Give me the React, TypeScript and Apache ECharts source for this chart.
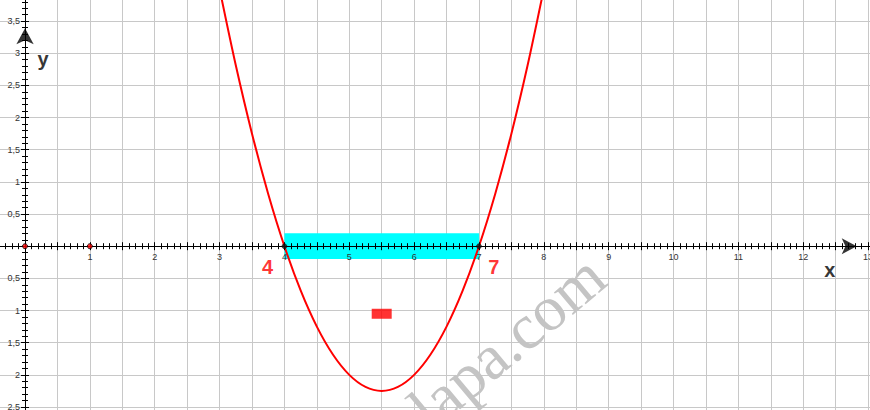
import React, { useEffect, useRef } from 'react';
import * as echarts from 'echarts';

// Parabola samples (roots at 4 and 7, vertex at 5.5, -2.25)
const curveX = [3, 3.25, 3.5, 3.75, 4, 4.25, 4.5, 4.75, 5, 5.25, 5.5, 5.75, 6, 6.25, 6.5, 6.75, 7, 7.25, 7.5, 7.75, 8];
const curveY = [4, 2.8125, 1.75, 0.8125, 0, -0.6875, -1.25, -1.6875, -2, -2.1875, -2.25, -2.1875, -2, -1.6875, -1.25, -0.6875, 0, 0.8125, 1.75, 2.8125, 4];

// Cyan band on the x axis between the roots
const bandX = [4, 7];
const bandY = [-0.2, 0.2];

const redDots = [[0, 0], [1, 0]];
const blackDots = [[4, 0], [7, 0]];
const redMark = [[5.5, -1.05]];

// arrow tips
const xArrow = [[12.825, 0]];
const yArrow = [[0, 3.39]];

const annoText = ['4', '7', 'x', 'y'];
const annoX = [3.74, 7.23, 12.41, 0.28];
const annoY = [-0.32, -0.32, -0.365, 2.91];
const annoColor = ['#ff0000', '#ff0000', '#000000', '#000000'];

const X_MIN = -0.5, X_MAX = 13.5, Y_MIN = -3, Y_MAX = 4, STEP = 0.5;
const watermark = 'lapa.com';

const fmtY = (v: number) => (Math.abs(v) < 1e-9 ? '' : String(Math.abs(v)).replace('.', ','));
const fmtX = (v: number) => (Math.abs(v) < 1e-9 || Math.abs(v - Math.round(v)) > 1e-9 ? '' : String(Math.round(v)));

// grid placement (px)
const G_LEFT = -7.4, G_RIGHT = -30.5, G_TOP = -11.1, G_BOTTOM = -29.2;
const ZERO_X_PX = 25, ZERO_Y_PX = 246.2, H = 410;

export default function App() {
  const ref = useRef<HTMLDivElement>(null);
  useEffect(() => {
    if (!ref.current) return;
    const chart = echarts.init(ref.current, undefined, { renderer: 'svg' });
    const font = 'Liberation Sans';
    const xOff = -((H - G_BOTTOM) - ZERO_Y_PX); // move bottom axis up to y = 0
    const yOff = -(ZERO_X_PX - G_LEFT); // move left axis right to x = 0
    const baseX = { type: 'value', min: X_MIN, max: X_MAX, interval: STEP, gridIndex: 0, position: 'bottom' };
    const baseY = { type: 'value', min: Y_MIN, max: Y_MAX, interval: STEP, gridIndex: 0, position: 'left' };
    const option: any = {
      animation: false,
      grid: { left: G_LEFT, right: G_RIGHT, top: G_TOP, bottom: G_BOTTOM, containLabel: false, outerBoundsMode: 'none' },
      xAxis: [
        {
          ...baseX, z: 0,
          axisLine: { show: false, onZero: false }, axisTick: { show: false }, axisLabel: { show: false },
          splitLine: { show: true, lineStyle: { color: '#c8c8c8', width: 1 } },
        },
        {
          ...baseX, z: 5, offset: xOff,
          axisLine: { show: true, onZero: false, lineStyle: { color: '#000', width: 1 } },
          axisTick: { show: true, inside: false, length: 4, lineStyle: { color: '#000' } },
          minorTick: { show: true, splitNumber: 5, length: 3, lineStyle: { color: '#000' } },
          axisLabel: { show: true, interval: 0, margin: 6, fontSize: 9, fontFamily: font, color: '#333', formatter: fmtX },
          splitLine: { show: false },
        },
        {
          ...baseX, z: 5, offset: xOff,
          axisLine: { show: false, onZero: false },
          axisTick: { show: true, inside: true, length: 4, lineStyle: { color: '#000' } },
          minorTick: { show: true, splitNumber: 5, length: 3, lineStyle: { color: '#000' } },
          axisLabel: { show: false },
          splitLine: { show: false },
        },
      ],
      yAxis: [
        {
          ...baseY, z: 0,
          axisLine: { show: false, onZero: false }, axisTick: { show: false }, axisLabel: { show: false },
          splitLine: { show: true, lineStyle: { color: '#c8c8c8', width: 1 } },
        },
        {
          ...baseY, z: 5, offset: yOff,
          axisLine: { show: true, onZero: false, lineStyle: { color: '#000', width: 1 } },
          axisTick: { show: true, inside: false, length: 4, lineStyle: { color: '#000' } },
          minorTick: { show: true, splitNumber: 5, length: 3, lineStyle: { color: '#000' } },
          axisLabel: { show: true, interval: 0, margin: 5, fontSize: 9, fontFamily: font, color: '#333', formatter: fmtY },
          splitLine: { show: false },
        },
        {
          ...baseY, z: 5, offset: yOff,
          axisLine: { show: false, onZero: false },
          axisTick: { show: true, inside: true, length: 4, lineStyle: { color: '#000' } },
          minorTick: { show: true, splitNumber: 5, length: 3, lineStyle: { color: '#000' } },
          axisLabel: { show: false },
          splitLine: { show: false },
        },
      ],
      series: [
        {
          type: 'custom', z: 1, silent: true,
          data: [[bandX[0], bandX[1], bandY[0], bandY[1]]],
          renderItem: (params: any, api: any) => {
            const p1 = api.coord([api.value(0), api.value(3)]);
            const p2 = api.coord([api.value(1), api.value(2)]);
            return {
              type: 'rect',
              shape: { x: p1[0], y: p1[1], width: p2[0] - p1[0], height: p2[1] - p1[1] },
              style: { fill: '#00ffff' },
            };
          },
        },
        {
          type: 'line', z: 4, smooth: 0.3, symbol: 'none',
          data: curveX.map((x, i) => [x, curveY[i]]),
          lineStyle: { color: '#ff0000', width: 2 },
        },
        {
          type: 'scatter', z: 7, symbol: 'circle', symbolSize: 5,
          data: redDots,
          itemStyle: { color: '#ff0000', borderColor: '#000', borderWidth: 1 },
        },
        {
          type: 'scatter', z: 7, symbol: 'circle', symbolSize: 5,
          data: blackDots,
          itemStyle: { color: '#111', borderColor: '#000', borderWidth: 0.5 },
        },
        {
          type: 'scatter', z: 7, symbol: 'rect', symbolSize: [20, 10],
          data: redMark,
          itemStyle: { color: '#ff0000' },
        },
        {
          type: 'scatter', z: 8, symbol: 'arrow', symbolSize: [12, 15], symbolRotate: -90,
          data: xArrow, itemStyle: { color: '#000' },
        },
        {
          type: 'scatter', z: 8, symbol: 'arrow', symbolSize: [13, 16],
          data: yArrow, itemStyle: { color: '#000' },
        },
        {
          type: 'scatter', z: 9, symbolSize: 0,
          data: annoText.map((t, i) => ({
            value: [annoX[i], annoY[i]],
            label: {
              show: true, position: 'inside', formatter: t,
              fontSize: 20, fontWeight: 'bold', fontFamily: font, color: annoColor[i],
            },
          })),
        },
      ],
      graphic: [
        {
          type: 'text', x: 507, y: 342, rotation: (40 * Math.PI) / 180, z: 20, silent: true,
          style: {
            text: watermark, font: '64px "Liberation Serif"', fill: '#c4c4c4',
            align: 'center', verticalAlign: 'middle',
          },
        },
      ],
    };
    chart.setOption(option);
    return () => chart.dispose();
  }, []);
  return (
    <div
      ref={ref}
      style={{ position: 'absolute', left: 0, top: 0, width: 870, height: 410, background: '#fff' }}
    />
  );
}
